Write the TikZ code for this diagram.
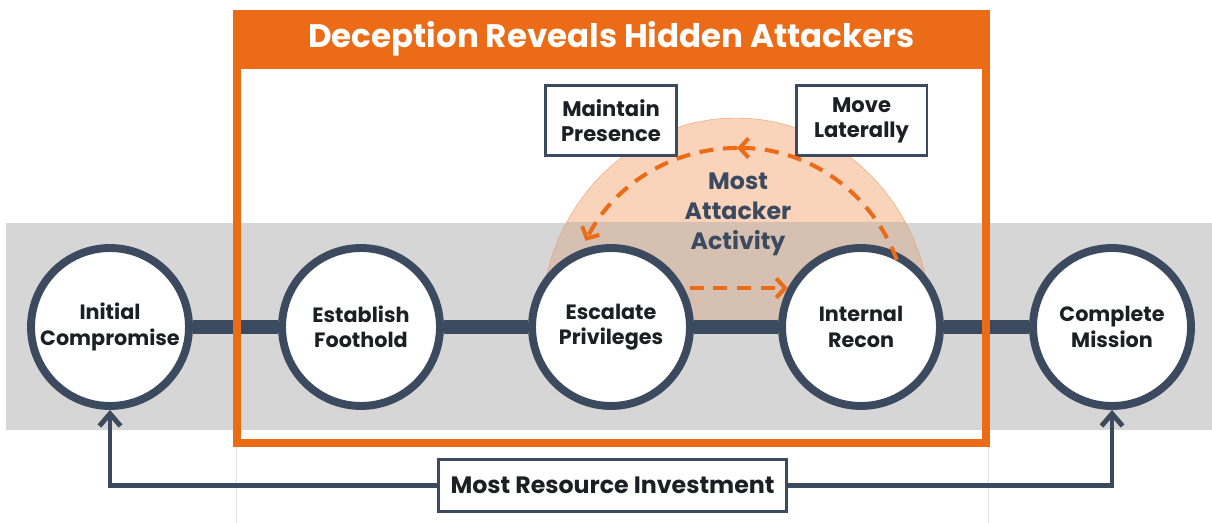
\documentclass[tikz,border=0pt]{standalone}
\usepackage{fontspec}
\setmainfont{Poppins}
\usetikzlibrary{arrows.meta}
\definecolor{deceptorange}{HTML}{EC6B17}
\definecolor{slate}{HTML}{3B4A5E}
\definecolor{inktext}{HTML}{1C1F24}
\definecolor{bandgray}{HTML}{D6D6D6}
\definecolor{peach}{HTML}{F9D3BA}
\definecolor{peachgray}{HTML}{D6C0B1}
\definecolor{faintgray}{HTML}{E4E4E4}
\pgfdeclarelayer{background}
\pgfsetlayers{background,main}

\begin{document}
\begin{tikzpicture}[x=0.02cm, y=0.02cm,
  stage/.style={circle, draw=slate, line width=4.5pt, fill=white, minimum size=3.16cm,
    inner sep=0pt, align=center, text=inktext, font=\bfseries\fontsize{11.8}{14.5}\selectfont},
  tactic/.style={draw=slate, line width=1.7pt, fill=white, minimum width=2.62cm,
    minimum height=1.40cm, inner sep=0pt, align=center, text=inktext,
    font=\bfseries\fontsize{12}{14.5}\selectfont},
  link/.style={slate, line width=8.5pt},
  flow/.style={deceptorange, line width=2.3pt, dash pattern=on 8pt off 5.5pt,
    -{Straight Barb[length=5pt, width=11pt, line width=2.3pt]}},
  invest/.style={slate, line width=2.8pt,
    -{Straight Barb[length=7pt, width=12pt, line width=2.8pt]}}]
\useasboundingbox (0,0) rectangle (1212,523);

\begin{pgfonlayer}{background}
% band behind the kill chain
\fill[bandgray] (6,93) rectangle (1212,300);
\draw[faintgray, thin] (236,0) -- (236,80);
\draw[faintgray, thin] (988,0) -- (988,80);
% most attacker activity
\fill[peach] (541,198) arc (180:0:195 and 207) -- cycle;
\begin{scope}
  \clip (6,93) rectangle (1212,300);
  \fill[peachgray] (541,198) arc (180:0:195 and 207) -- cycle;
\end{scope}
\draw[deceptorange!70, very thin] (541,198) arc (180:0:195 and 207);
\end{pgfonlayer}
\node[text=slate, align=center, font=\bfseries\fontsize{13.5}{17}\selectfont] (activity) at (738,309)
  {Most\\Attacker\\Activity};

% stages
\node[stage] (init) at (110,196) {Initial\\Compromise};
\node[stage] (foot) at (361,196) {Establish\\Foothold};
\node[stage] (priv) at (611,196) {Escalate\\Privileges};
\node[stage] (recon) at (861,196) {Internal\\Recon};
\node[stage] (done) at (1112,196) {Complete\\Mission};

\begin{pgfonlayer}{background}
\draw[link] (init) -- (foot);
\draw[link] (foot) -- (priv);
\draw[link] (priv) -- (recon);
\draw[link] (recon) -- (done);
\end{pgfonlayer}

% deception frame
\draw[deceptorange, line width=4.5pt] (237,80) rectangle (986,509);
\fill[deceptorange] (233,454) rectangle (990,513);
\node[text=white, font=\bfseries\fontsize{18.5}{22}\selectfont] (title) at (611.5,484)
  {Deception Reveals Hidden Attackers};

% lateral loop
\node[tactic] (persist) at (611,402.5) {Maintain\\Presence};
\node[tactic] (lateral) at (861.5,402.5) {Move\\Laterally};
\coordinate (loop) at (737,205);
\draw[flow] ([shift={(20:170)}]loop) arc (20:90:170);
\draw[flow] ([shift={(90:170)}]loop) arc (90:153:170);
\draw[flow, shorten <=3pt] (priv.28) -- (recon.152);

% investment
\node[draw=slate, line width=1.5pt, fill=white, minimum width=6.96cm, minimum height=1.04cm,
  text=inktext, font=\bfseries\fontsize{13.5}{16}\selectfont] (spend) at (612.5,37.5)
  {Most Resource Investment};
\draw[invest] (spend.west) -| (init.south);
\draw[invest] (spend.east) -| (done.south);
\end{tikzpicture}
\end{document}
